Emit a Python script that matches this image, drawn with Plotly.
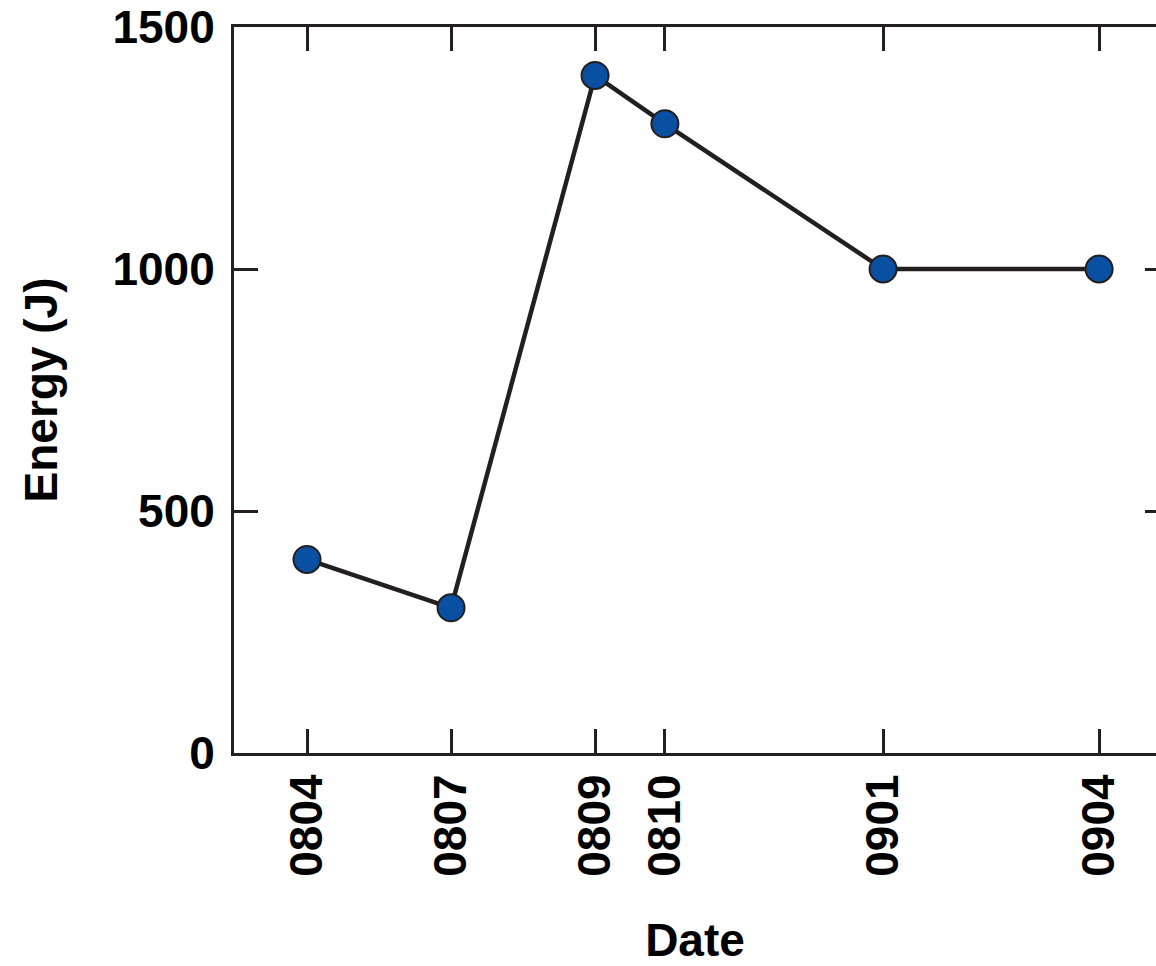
import plotly.graph_objects as go

dates = ["0804", "0807", "0809", "0810", "0901", "0904"]
x_pos = [0, 2, 4, 4.97, 8, 11]
energy = [400, 300, 1400, 1300, 1000, 1000]
y_ticks = [0, 500, 1000, 1500]

ink = "#231f20"
family = "Liberation Sans, Arial, Helvetica, sans-serif"
font = dict(family=family, size=46, color="#000000")

fig = go.Figure()
fig.add_trace(go.Scatter(
    x=x_pos, y=energy, mode="lines+markers",
    line=dict(color=ink, width=4.5),
    marker=dict(size=27, color="#0a50a2", line=dict(color=ink, width=2)),
    showlegend=False, cliponaxis=False,
))
# invisible trace to activate right-side tick axis
fig.add_trace(go.Scatter(x=[x_pos[0]], y=[energy[0]], yaxis="y2", mode="markers",
                         marker=dict(opacity=0), showlegend=False, hoverinfo="skip"))

fig.update_layout(
    width=1156, height=966,
    margin=dict(l=234, r=0, t=27, b=213),
    paper_bgcolor="white", plot_bgcolor="white",
    font=font,
    xaxis=dict(
        range=[-1.014, 11.79],
        tickmode="array", tickvals=x_pos, ticktext=dates,
        tickangle=-90, ticks="inside", ticklen=24, tickwidth=2.5, tickcolor=ink,
        showline=True, linecolor=ink, linewidth=3, mirror="ticks",
        showgrid=False, zeroline=False,
        title=dict(text="<b>Date</b>", standoff=55, font=font),
        tickfont=dict(family=family, size=46, color="#000", weight="bold"),
        ticklabelstandoff=0,
    ),
    yaxis=dict(
        range=[0, 1500],
        tickmode="array", tickvals=y_ticks,
        ticks="inside", ticklen=24, tickwidth=2.5, tickcolor=ink,
        showline=True, linecolor=ink, linewidth=3, mirror=False,
        showgrid=False, zeroline=False,
        title=dict(text="<b>Energy (J)</b>", standoff=41, font=font),
        tickfont=dict(family=family, size=46, color="#000", weight="bold"),
        ticklabelstandoff=7,
    ),
    yaxis2=dict(
        range=[0, 1500], overlaying="y", side="right",
        tickmode="array", tickvals=y_ticks,
        ticks="inside", ticklen=11, tickwidth=2.5, tickcolor=ink,
        showticklabels=False, showline=False, showgrid=False, zeroline=False,
    ),
)

fig.write_html("out.html", config={"displayModeBar": False},
               post_script="document.body.style.margin='0';document.body.style.overflow='hidden';")
